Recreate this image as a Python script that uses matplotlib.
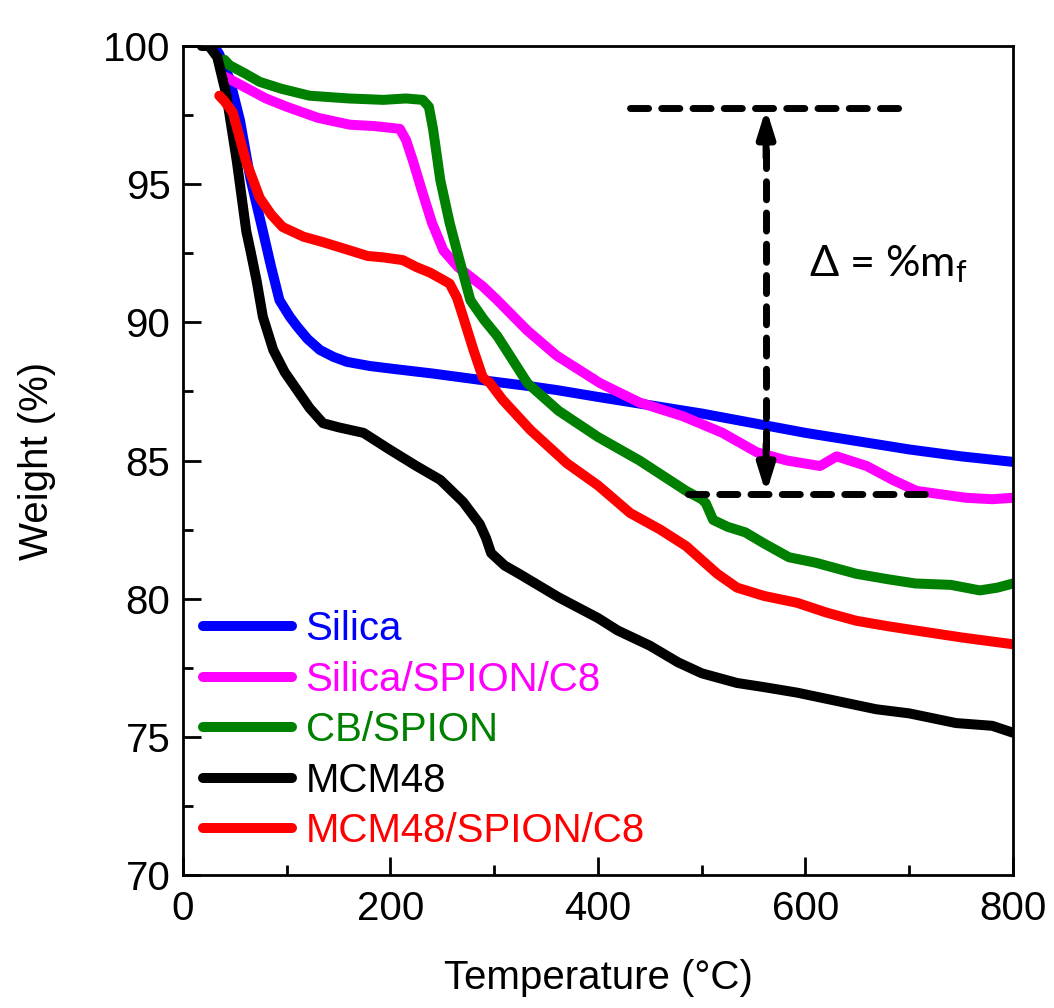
import matplotlib
matplotlib.use("Agg")
import matplotlib.pyplot as plt

plt.rcParams['font.family'] = ['Liberation Sans', 'DejaVu Sans']
plt.rcParams['mathtext.default'] = 'regular'

# ---------------- data ----------------
silica_x = [30, 35, 45, 55, 65, 77, 85, 93, 103, 110, 120, 132, 145, 158, 180, 206,
            240, 270, 300, 332, 360, 400, 450, 500, 550, 600, 650, 700, 750, 800]
silica_y = [100, 99.7, 98.8, 97.3, 95.2, 93.3, 92.0, 90.8, 90.2, 89.85, 89.4, 89.0,
            88.75, 88.57, 88.42, 88.3, 88.15, 88.0, 87.85, 87.7, 87.55, 87.3, 87.0,
            86.7, 86.35, 86.0, 85.7, 85.4, 85.15, 84.95]

ssc8_x = [40, 45, 60, 80, 100, 130, 161, 185, 209, 215, 222, 230, 240, 251, 265, 277,
          289, 303, 332, 360, 402, 440, 482, 520, 553, 582, 614, 630, 659, 684, 707,
          755, 780, 800]
ssc8_y = [98.9, 98.8, 98.5, 98.1, 97.8, 97.4, 97.15, 97.1, 97.0, 96.6, 95.8, 94.8,
          93.6, 92.6, 92.0, 91.65, 91.3, 90.8, 89.7, 88.8, 87.8, 87.1, 86.6, 86.0,
          85.3, 85.0, 84.8, 85.15, 84.8, 84.3, 83.9, 83.65, 83.6, 83.65]

cb_x = [40, 45, 60, 74, 95, 122, 160, 193, 215, 231, 237, 241, 248, 257, 264, 277,
        290, 303, 315, 332, 362, 400, 440, 485, 500, 504, 511, 525, 542, 560, 584,
        610, 649, 680, 706, 740, 768, 785, 800]
cb_y = [99.5, 99.3, 99.0, 98.7, 98.45, 98.2, 98.1, 98.05, 98.1, 98.05, 97.8, 97.0,
        95.15, 93.6, 92.6, 90.8, 90.1, 89.5, 88.8, 87.8, 86.8, 85.85, 85.0, 83.9,
        83.6, 83.45, 82.85, 82.6, 82.4, 82.0, 81.5, 81.3, 80.9, 80.7, 80.55, 80.5,
        80.3, 80.4, 80.55]

mcm_x = [18, 25, 33, 42, 52, 61, 65, 71, 77, 87, 98, 110, 122, 135, 150, 174, 199,
         225, 248, 270, 286, 292, 297, 310, 324, 362, 400, 419, 450, 477, 500, 534,
         560, 592, 630, 668, 700, 745, 780, 800]
mcm_y = [100, 100, 99.6, 98.2, 95.8, 93.3, 92.6, 91.5, 90.2, 89.0, 88.2, 87.55,
         86.9, 86.35, 86.2, 86.0, 85.4, 84.8, 84.3, 83.5, 82.7, 82.2, 81.65, 81.2,
         80.9, 80.05, 79.3, 78.85, 78.3, 77.7, 77.3, 76.95, 76.8, 76.6, 76.3, 76.0,
         75.85, 75.5, 75.4, 75.15]

msc8_x = [35, 40, 48, 61, 74, 85, 96, 116, 135, 161, 178, 193, 212, 225, 238, 250,
          257, 264, 270, 280, 289, 296, 308, 335, 370, 400, 431, 460, 485, 500, 515,
          534, 560, 592, 620, 649, 680, 706, 750, 800]
msc8_y = [98.2, 98.0, 97.6, 95.8, 94.5, 93.9, 93.45, 93.1, 92.9, 92.6, 92.4, 92.35,
          92.25, 92.0, 91.8, 91.55, 91.4, 90.9, 90.2, 89.0, 88.0, 87.8, 87.2, 86.1,
          84.9, 84.1, 83.1, 82.5, 81.9, 81.4, 80.9, 80.4, 80.1, 79.85, 79.5, 79.2,
          79.0, 78.85, 78.6, 78.35]

series = [
    ("Silica", silica_x, silica_y, "#0000ff"),
    ("Silica/SPION/C8", ssc8_x, ssc8_y, "#ff00ff"),
    ("CB/SPION", cb_x, cb_y, "#008000"),
    ("MCM48", mcm_x, mcm_y, "#000000"),
    ("MCM48/SPION/C8", msc8_x, msc8_y, "#ff0000"),
]

# annotation values
top_level = 97.75
bottom_level = 83.8
arrow_x = 562
top_line_x = [431, 702]
bottom_line_x = [487, 720]
label_pos = (603, 92.1)

# ---------------- figure ----------------
fig = plt.figure(figsize=(10.54, 10.08), dpi=100)
ax = fig.add_axes([0.1736, 0.1319, 0.7875, 0.8225])

for name, xs, ys, c in series:
    ax.plot(xs, ys, color=c, lw=7.2, label=name, solid_capstyle='round',
            solid_joinstyle='round')

dash_kw = dict(color='k', lw=5, dashes=(2.6, 1.9), dash_capstyle='round')
ax.plot(top_line_x, [top_level, top_level], **dash_kw)
ax.plot(bottom_line_x, [bottom_level, bottom_level], **dash_kw)
ax.plot([arrow_x, arrow_x], [top_level - 1.5, bottom_level + 1.5], **dash_kw)
head = dict(arrowstyle='-|>,head_length=1.6,head_width=0.5', lw=5, color='k',
            shrinkA=0, shrinkB=0)
ax.annotate('', xy=(arrow_x, top_level), xytext=(arrow_x, top_level - 1.8),
            arrowprops=head)
ax.annotate('', xy=(arrow_x, bottom_level), xytext=(arrow_x, bottom_level + 1.8),
            arrowprops=head)
ax.text(label_pos[0], label_pos[1], 'Δ = %m$_{f}$', fontsize=31,
        family=['Lato', 'DejaVu Sans'], va='center', ha='left')

ax.set_xlim(0, 800)
ax.set_ylim(70, 100)
ax.set_xticks([0, 200, 400, 600, 800])
ax.set_xticks([100, 300, 500, 700], minor=True)
ax.set_yticks([70, 75, 80, 85, 90, 95, 100])
ax.set_yticks([72.5, 77.5, 82.5, 87.5, 92.5, 97.5], minor=True)
ax.tick_params(which='both', direction='in', width=2, labelsize=29,
               top=False, right=False)
ax.tick_params(which='major', length=13)
ax.tick_params(which='minor', length=7)
ax.tick_params(axis='x', which='major', pad=11)
ax.tick_params(axis='y', which='major', pad=9)
for s in ax.spines.values():
    s.set_linewidth(2)

ax.set_xlabel('Temperature (°C)', fontsize=29, labelpad=22)
ax.set_ylabel('Weight (%)', fontsize=29, labelpad=34)

leg = ax.legend(loc='lower left', bbox_to_anchor=(0.024, 0.03), frameon=False,
                fontsize=29, handlelength=2.2, handletextpad=0.35,
                labelspacing=0.31, borderpad=0, borderaxespad=0,
                labelcolor='linecolor')
for ln in leg.get_lines():
    ln.set_solid_capstyle('round')
    ln.set_linewidth(7.2)

fig.savefig('out.png', dpi=100)
